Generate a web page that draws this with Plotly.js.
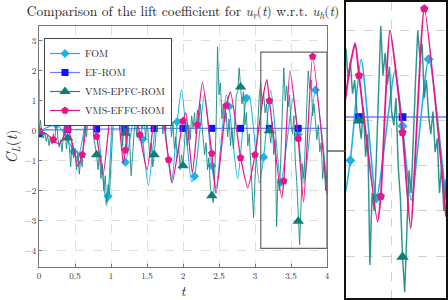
<!DOCTYPE html>
<html><head><meta charset="utf-8">
<script src="https://cdn.plot.ly/plotly-3.0.1.min.js"></script>
<style>html,body{margin:0;padding:0;background:#fff}#c{width:448px;height:300px}</style>
</head><body><div id="c"></div>
<script>
// ---- FOM (line through read extrema + marker points) ----
const fomT = [0,0.004,0.012,0.1,0.24,0.36,0.48,0.54,0.72,0.84,0.935,0.96,1.06,1.2,1.37,1.44,1.52,1.68,1.84,1.92,1.98,2.12,2.16,2.3,2.4,2.46,2.6,2.64,2.76,2.88,2.92,3.06,3.12,3.22,3.36,3.53,3.6,3.68,3.84,4.0];
const fomV = [0,1.7,0.02,0.1,0.2,-0.1,-0.69,-0.95,1.15,-0.4,-2.5,-2.19,1.9,-1.05,1.15,-0.28,-1.83,1.46,-1.74,0.3,1.38,-1.69,-1.52,1.25,-1.17,-1.9,1.2,0.81,-1.6,1.09,1.17,-1.74,-0.88,1.36,-1.72,1.1,-0.12,-1.76,1.36,-1.76];
const fomMarkT = [0,0.24,0.48,0.72,0.96,1.2,1.44,1.68,1.92,2.16,2.4,2.64,2.88,3.12,3.36,3.6,3.84];
const fomMarkV = [0,0.2,-0.69,1.15,-2.19,-1.05,-0.28,1.46,0.3,-1.52,-1.17,0.81,1.09,-0.88,-1.72,-0.12,1.36];

// ---- EF-ROM ----
const efT = [0,0.03,0.1,0.2,0.4,0.8,1.2,1.6,2.0,2.4,2.8,3.2,3.6,4.0];
const efV = [-0.1,0.0,0.04,0.03,0.04,0.06,0.07,0.08,0.08,0.08,0.08,0.08,0.08,0.08];
const efMarkT = [0,0.4,0.8,1.2,1.6,2.0,2.4,2.8,3.2,3.6];
const efMarkV = [-0.1,0.04,0.06,0.07,0.08,0.08,0.08,0.08,0.08,0.08];

// ---- VMS-EPFC-ROM (sampled every 0.02) ----
const epfcStep = 0.02;
const epfcV = [
 -0.05,0.35,-0.1,-0.25,-0.05,-0.35,-0.15,-0.5,-0.2,-0.45,-0.1,-0.4,0.6,-0.2,-0.55,-0.3,-0.7,0.0,0.45,-0.6,-0.24,
 -0.5,-1.2,-0.4,-0.9,-0.6,-1.3,-0.7,-1.45,-0.9,-1.2,-0.3,0.2,-0.2,0.6,1.0,0.4,0.7,-0.2,-0.5,-0.8,
 -1.3,-0.7,-1.6,-1.1,-2.0,-1.5,-2.4,-1.8,-2.1,-0.9,-0.2,0.5,1.0,0.4,0.9,0.1,0.5,-0.5,0.2,-0.08,
 -0.6,0.3,-0.4,-1.5,-0.6,-0.1,0.4,-0.2,0.6,0.2,0.8,0.1,0.5,-0.3,0.4,-0.4,-0.9,-0.4,-1.2,-0.8,
 -0.3,0.4,0.9,0.3,0.7,-0.1,0.5,0.0,0.8,0.3,0.6,-0.2,0.3,-0.6,-0.2,-0.9,-0.5,-1.3,-0.8,-1.17,
 -0.4,0.3,-0.5,0.2,-0.3,0.5,0.1,0.6,-0.1,0.7,0.2,0.9,0.3,-0.2,-0.8,-0.4,-1.3,-0.9,-1.9,-2.17,
 -2.4,-1.5,0.2,2.8,1.2,1.6,0.4,0.9,0.3,0.6,-0.2,0.4,-0.5,0.1,-0.6,0.3,1.2,1.3,2.1,1.46,
 0.9,1.3,0.2,0.6,-0.5,-0.1,-1.2,-1.9,-2.9,-1.6,-0.6,0.5,1.2,1.6,0.9,1.3,0.6,0.9,0.2,0.0,
 -0.4,0.3,-0.8,-0.3,-3.2,-1.6,-2.0,-0.8,0.5,2.1,1.0,1.5,0.8,1.2,0.2,-0.1,0.5,-1.0,-1.7,-3.02,
 -3.8,-2.4,-1.1,-1.6,-0.1,0.9,2.0,1.4,1.7,0.5,0.9,0.1,-0.3,0.2,-0.7,-0.4,-1.6,-1.0,-2.0,-1.3
];
const epfcMarkEvery = 20;

// ---- VMS-EFFC-ROM ----
const effcT = [0,0.1,0.2,0.28,0.4,0.47,0.54,0.6,0.7,0.8,0.89,1.0,1.06,1.17,1.2,1.28,1.4,1.5,1.6,1.65,1.8,1.85,2.0,2.04,2.13,2.2,2.27,2.4,2.46,2.6,2.66,2.8,2.9,3.0,3.12,3.165,3.2,3.37,3.4,3.485,3.6,3.675,3.8,4.0];
const effcV = [0,-0.1,-0.3,-0.45,0.05,-0.5,-1.19,-0.8,0.81,-0.19,-1.47,0.81,1.53,-1.08,-0.65,1.55,-0.13,-1.3,0.52,1.59,-0.97,-1.74,0.33,0.6,-1.41,0.2,1.62,-0.76,-2.1,0.84,1.3,-0.9,-1.9,-0.8,1.25,1.72,1.0,-2.24,-1.68,2.0,-0.26,-2.38,2.48,-2.13];
const effcMarkT = [0,0.2,0.4,0.6,0.8,1.0,1.2,1.4,1.6,1.8,2.0,2.2,2.4,2.6,2.8,3.0,3.2,3.4,3.6,3.8];
const effcMarkV = [0,-0.3,0.05,-0.8,-0.19,0.81,-0.65,-0.13,0.52,-0.97,0.33,0.2,-0.76,0.84,-0.9,-0.8,1.0,-1.68,-0.26,2.48];

const names = ['FOM','EF-ROM','VMS-EPFC-ROM','VMS-EFFC-ROM'];
const xTicks = [0,0.5,1,1.5,2,2.5,3,3.5,4];
const xTickText = ['0','0.5','1','1.5','2','2.5','3','3.5','4'];

// zoom window
const zoomX = [3.08, 4.0];
const zoomY = [-3.93, 2.63];

const epfcT = epfcV.map((_, i) => +(i * epfcStep).toFixed(3));
const epfcMarkT = epfcT.filter((_, i) => i % epfcMarkEvery === 0 && epfcT[i] < 3.9);
const epfcMarkV = epfcV.filter((_, i) => i % epfcMarkEvery === 0 && epfcT[i] < 3.9);

const C = {fom:'#1eb1e6', efLine:'#6f7dff', ef:'#0a14ff', epfc:'#138a85', epfcM:'#0d7f78', effc:'#e8168a'};
const SERIF = '"Latin Modern Roman","CMU Serif","Liberation Serif","DejaVu Serif",serif';

function series(ax, lw, ms){
  const xa = ax === 1 ? 'x' : 'x2', ya = ax === 1 ? 'y' : 'y2';
  return [
    {x:fomT, y:fomV, xaxis:xa, yaxis:ya, mode:'lines', line:{color:C.fom, width:lw, shape:'spline', smoothing:0.6}, showlegend:false, hoverinfo:'skip'},
    {x:fomMarkT, y:fomMarkV, xaxis:xa, yaxis:ya, mode:'markers', marker:{symbol:'diamond', size:7*ms, color:C.fom}, showlegend:false},
    {x:efT, y:efV, xaxis:xa, yaxis:ya, mode:'lines', line:{color:C.efLine, width:lw}, showlegend:false},
    {x:efMarkT, y:efMarkV, xaxis:xa, yaxis:ya, mode:'markers', marker:{symbol:'square', size:7*ms, color:C.ef}, showlegend:false},
    {x:epfcT, y:epfcV, xaxis:xa, yaxis:ya, mode:'lines', line:{color:C.epfc, width:lw*0.9}, opacity:0.9, showlegend:false},
    {x:epfcMarkT, y:epfcMarkV, xaxis:xa, yaxis:ya, mode:'markers', marker:{symbol:'triangle-up', size:10*ms, color:C.epfcM}, showlegend:false},
    {x:effcT, y:effcV, xaxis:xa, yaxis:ya, mode:'lines', line:{color:C.effc, width:lw*1.15, shape:'spline', smoothing:0.5}, showlegend:false},
    {x:effcMarkT, y:effcMarkV, xaxis:xa, yaxis:ya, mode:'markers', marker:{symbol:'pentagon', size:8*ms, color:C.effc}, showlegend:false}
  ];
}
const legendTraces = [
  {name:names[0], sym:'diamond', col:C.fom, lc:C.fom, s:7},
  {name:names[1], sym:'square', col:C.ef, lc:C.efLine, s:7},
  {name:names[2], sym:'triangle-up', col:C.epfcM, lc:C.epfc, s:10},
  {name:names[3], sym:'pentagon', col:C.effc, lc:C.effc, s:8}
].map(o => ({x:[null], y:[null], name:o.name, mode:'lines+markers', line:{color:o.lc, width:1.2}, marker:{symbol:o.sym, size:o.s, color:o.col}, showlegend:true}));

const data = [...series(1, 1.1, 1), ...series(2, 1.6, 1.1), ...legendTraces];

const W = 448, H = 300;
const px = v => v / W, py = v => 1 - v / H;
const layout = {
  width:W, height:H, margin:{l:0,r:0,t:0,b:0}, paper_bgcolor:'#fff', plot_bgcolor:'#fff',
  font:{family:SERIF, color:'#222', size:10},
  title:{text:'Comparison of the lift coefficient for <i>u<sub>r</sub></i>(<i>t</i>) w.r.t. <i>u<sub>h</sub></i>(<i>t</i>)', x:px(183), xanchor:'center', xref:'paper', y:py(11), yanchor:'middle', yref:'paper', font:{family:SERIF, size:13.5, color:'#222'}},
  xaxis:{domain:[px(39), px(327)], range:[0,4], tickvals:xTicks, ticktext:xTickText, showgrid:true, gridcolor:'#dedede', griddash:'dash', gridwidth:1, zeroline:false, showline:true, mirror:true, linecolor:'#777', linewidth:1, ticks:'inside', ticklen:3, tickcolor:'#777', tickfont:{size:9, color:'#333'}, title:{text:'<i>t</i>', font:{size:14}, standoff:13}, anchor:'y'},
  yaxis:{domain:[py(267), py(26)], range:[-4.55,3.5], dtick:1, tick0:0, showgrid:true, gridcolor:'#dedede', griddash:'dash', gridwidth:1, zeroline:false, showline:true, mirror:true, linecolor:'#777', linewidth:1, ticks:'inside', ticklen:3, tickcolor:'#777', tickfont:{size:9, color:'#333'}, title:{text:'<i>C<sub>L</sub></i>(<i>t</i>)', font:{size:15}, standoff:6}, anchor:'x'},
  xaxis2:{domain:[px(346), px(446)], range:zoomX, dtick:0.5, tick0:0, showgrid:true, gridcolor:'#d0d0d0', griddash:'dash', zeroline:false, showticklabels:false, ticks:'', showline:true, mirror:true, linecolor:'#111', linewidth:2.5, anchor:'y2'},
  yaxis2:{domain:[py(298), py(2)], range:zoomY, dtick:1, tick0:0, showgrid:true, gridcolor:'#d0d0d0', griddash:'dash', zeroline:false, showticklabels:false, ticks:'', showline:true, mirror:true, linecolor:'#111', linewidth:2.5, anchor:'x2'},
  legend:{x:px(44), y:py(38), xanchor:'left', yanchor:'top', xref:'paper', yref:'paper', bgcolor:'#fff', bordercolor:'#444', borderwidth:1, font:{size:10, family:SERIF, color:'#222'}, tracegroupgap:0},
  shapes:[
    {type:'rect', xref:'x', yref:'y', x0:zoomX[0], x1:zoomX[1], y0:zoomY[0], y1:zoomY[1], line:{color:'#666', width:1.2}},
    {type:'line', xref:'paper', yref:'paper', x0:px(327), x1:px(346), y0:py(151), y1:py(151), line:{color:'#444', width:1.3}}
  ]
};
Plotly.newPlot('c', data, layout, {staticPlot:true, displayModeBar:false});
</script>
</body></html>
